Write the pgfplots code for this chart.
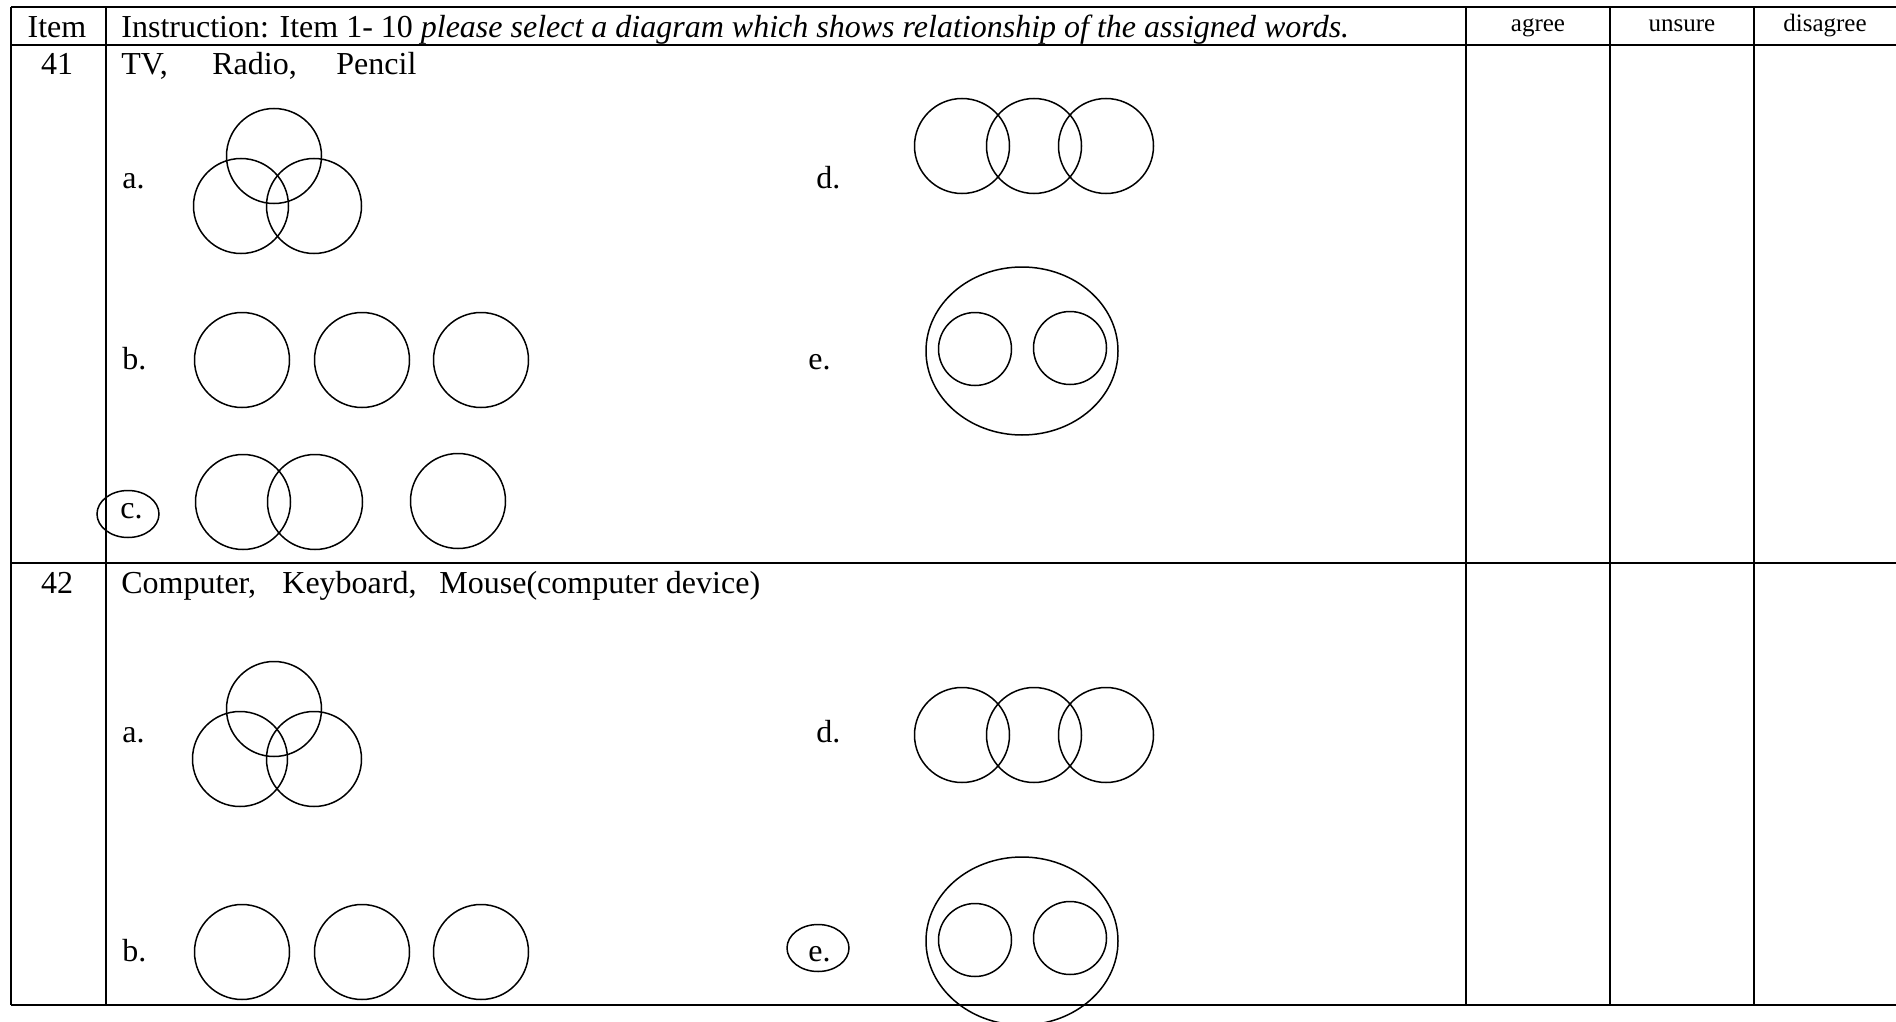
\documentclass[border=0pt]{standalone}
\usepackage{fontspec}
\setmainfont{Liberation Serif}
\usepackage{pgfplots}
\pgfplotsset{compat=1.18}
\pgfdeclareplotmark{ellbig}{\pgfpathellipse{\pgfpointorigin}{\pgfqpoint{48pt}{0pt}}{\pgfqpoint{0pt}{42pt}}\pgfusepathqstroke}
\pgfdeclareplotmark{elllab}{\pgfpathellipse{\pgfpointorigin}{\pgfqpoint{15.5pt}{0pt}}{\pgfqpoint{0pt}{11.75pt}}\pgfusepathqstroke}
\begin{document}
\begin{tikzpicture}[every node/.style={font=\fontsize{16}{19}\selectfont, inner sep=0pt}]
\begin{axis}[
  scale only axis, width=948pt, height=511pt,
  xmin=0, xmax=1896, ymin=0, ymax=1022, y dir=reverse,
  hide axis, clip=false,
]
% table rules
\addplot[black, line width=0.95pt] coordinates {(11,7) (1896,7)};
\addplot[black, line width=0.95pt] coordinates {(11,45) (1896,45)};
\addplot[black, line width=0.95pt] coordinates {(11,563) (1896,563)};
\addplot[black, line width=0.95pt] coordinates {(11,1005) (1896,1005)};
\addplot[black, line width=0.95pt] coordinates {(11,7) (11,1005)};
\addplot[black, line width=0.95pt] coordinates {(106,7) (106,1005)};
\addplot[black, line width=0.95pt] coordinates {(1466,7) (1466,1005)};
\addplot[black, line width=0.95pt] coordinates {(1610,7) (1610,1005)};
\addplot[black, line width=0.95pt] coordinates {(1754,7) (1754,1005)};
% standard circles
\addplot[only marks, mark=o, mark size=23.75pt, mark options={line width=0.75pt, black}] coordinates {
 (274,156) (241,206) (314,206)
 (962,146) (1034,146) (1106,146)
 (242,360) (362,360) (481,360)
 (243,502) (315,502) (458,501)
 (274,709) (240,759) (314,759)
 (962,735) (1034,735) (1106,735)
 (242,952) (362,952) (481,952)
};
% inner circles of e
\addplot[only marks, mark=o, mark size=18.25pt, mark options={line width=0.75pt, black}] coordinates {
 (975,349) (1070,348) (975,940) (1070,938)
};
% outer ellipses of e
\addplot[only marks, mark=ellbig, mark options={line width=0.75pt, black}] coordinates {
 (1022,351) (1022,941)
};
% circled answers
\addplot[only marks, mark=elllab, mark options={line width=0.75pt, black}] coordinates {
 (128,514) (818,948)
};
% header text
\node[anchor=base] at (axis cs:57,38) {Item};
\node[anchor=base west] at (axis cs:121,38) {Instruction: Item 1- 10 \textit{please select a diagram which shows relationship of the assigned words.}};
\node[anchor=base, font=\fontsize{12.5}{15}\selectfont] at (axis cs:1538,32) {agree};
\node[anchor=base, font=\fontsize{12.5}{15}\selectfont] at (axis cs:1682,32) {unsure};
\node[anchor=base, font=\fontsize{12.5}{15}\selectfont] at (axis cs:1825,32) {disagree};
% row 41
\node[anchor=base] at (axis cs:57,75) {41};
\node[anchor=base west] at (axis cs:121,75) {TV,};
\node[anchor=base west] at (axis cs:212,75) {Radio,};
\node[anchor=base west] at (axis cs:336,75) {Pencil};
\node[anchor=base west] at (axis cs:122,189) {a.};
\node[anchor=base west] at (axis cs:816,189) {d.};
\node[anchor=base west] at (axis cs:122,369) {b.};
\node[anchor=base west] at (axis cs:808,369) {e.};
\node[anchor=base west] at (axis cs:120,518) {c.};
% row 42
\node[anchor=base] at (axis cs:57,593) {42};
\node[anchor=base west] at (axis cs:121,593) {Computer,};
\node[anchor=base west] at (axis cs:282,593) {Keyboard,};
\node[anchor=base west] at (axis cs:439,593) {Mouse(computer device)};
\node[anchor=base west] at (axis cs:122,742) {a.};
\node[anchor=base west] at (axis cs:816,742) {d.};
\node[anchor=base west] at (axis cs:122,961) {b.};
\node[anchor=base west] at (axis cs:808,961) {e.};
\end{axis}
\pgfresetboundingbox
\path (current axis.south west) rectangle (current axis.north east);
\end{tikzpicture}
\end{document}
